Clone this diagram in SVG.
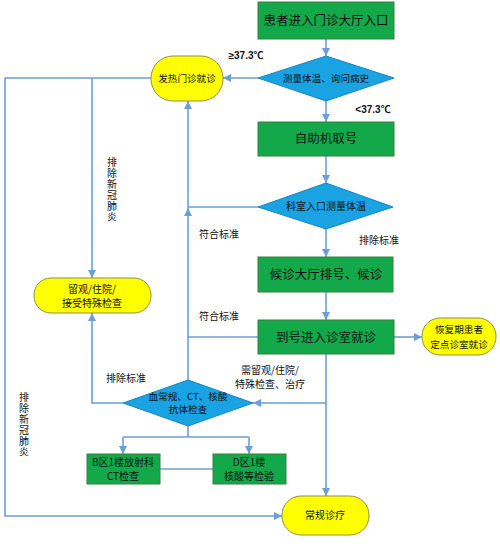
<svg xmlns="http://www.w3.org/2000/svg" width="500" height="548" viewBox="0 0 500 548">
<style>
.g{fill:#13A94B;stroke:#3C7F3E;stroke-width:1}
.d{fill:#1AA3E3;stroke:#1A86C0;stroke-width:1}
.y{fill:#FFFF00;stroke:#8F8F4A;stroke-width:1}
.c path{fill:none;stroke:#6C9FD6;stroke-width:1.6}
text{font-family:"Noto Sans CJK SC","Liberation Sans",sans-serif;fill:#111;text-anchor:middle}
.bt{font-size:12.5px}
.st{font-size:9.6px}
.lb{font-size:10px}
.b{font-weight:bold;font-family:"Liberation Sans","Noto Sans CJK SC",sans-serif}
.v{writing-mode:vertical-rl;letter-spacing:1px}
</style>
<defs>
<marker id="a" markerUnits="userSpaceOnUse" markerWidth="9" markerHeight="9" refX="8" refY="4" orient="auto">
<path d="M0,0 L8,4 L0,8 z" fill="#6C9FD6"/>
</marker>
</defs>
<rect width="500" height="548" fill="#fff"/>
<g class="c">
<path d="M326,39 V56" marker-end="url(#a)"/>
<path d="M258,78 H223" marker-end="url(#a)"/>
<path d="M326,101 V122" marker-end="url(#a)"/>
<path d="M326,156 V183" marker-end="url(#a)"/>
<path d="M258,207 H188"/>
<path d="M188,380 V208" marker-end="url(#a)"/>
<path d="M188,208 V101" marker-end="url(#a)"/>
<path d="M326,229 V257" marker-end="url(#a)"/>
<path d="M326,292 V320" marker-end="url(#a)"/>
<path d="M258,337 H188"/>
<path d="M394,337 H422" marker-end="url(#a)"/>
<path d="M326,354 V496" marker-end="url(#a)"/>
<path d="M326,403 H253" marker-end="url(#a)"/>
<path d="M151,78 H5 V516 H282" marker-end="url(#a)"/>
<path d="M92,78 V278" marker-end="url(#a)"/>
<path d="M123,403 H92 V313" marker-end="url(#a)"/>
<path d="M188,426 V437"/>
<path d="M123,437 H249"/>
<path d="M123,437 V454" marker-end="url(#a)"/>
<path d="M249,437 V454" marker-end="url(#a)"/>
<path d="M160,469 H213"/>
</g>
<g id="entrance"><rect class="g" x="258" y="2" width="136" height="37"/><text class="bt" x="326" y="25">患者进入门诊大厅入口</text></g>
<g id="measure1"><polygon class="d" points="326,56 394,78 326,101 258,78"/><text class="st" x="326" y="82">测量体温、询问病史</text></g>
<g id="fever"><rect class="y" x="151" y="56" width="72" height="45" rx="22" ry="22"/><text class="st" x="187" y="82">发热门诊就诊</text></g>
<g id="selfservice"><rect class="g" x="258" y="122" width="136" height="34"/><text class="bt" x="326" y="143">自助机取号</text></g>
<g id="measure2"><polygon class="d" points="326,183 393,207 326,229 258,207"/><text class="lb" x="326" y="210">科室入口测量体温</text></g>
<g id="waiting"><rect class="g" x="258" y="257" width="135" height="35"/><text class="bt" x="326" y="279">候诊大厅排号、候诊</text></g>
<g id="clinic"><rect class="g" x="258" y="320" width="136" height="34"/><text class="bt" x="326" y="342">到号进入诊室就诊</text></g>
<g id="recovery"><rect class="y" x="422" y="318" width="74" height="37" rx="18" ry="18"/><text class="st" x="459" y="333">恢复期患者</text><text class="st" x="459" y="348">定点诊室就诊</text></g>
<g id="observe"><rect class="y" x="34" y="278" width="117" height="35" rx="17" ry="17"/><text class="lb" x="92" y="293">留观/住院/</text><text class="lb" x="92" y="307">接受特殊检查</text></g>
<g id="tests"><polygon class="d" points="188,380 253,403 188,426 123,403"/><text class="st" x="188" y="400">血常规、CT、核酸</text><text class="st" x="188" y="413">抗体检查</text></g>
<g id="ct"><rect class="g" x="87" y="454" width="73" height="30"/><text class="lb" x="123" y="466">B区1楼放射科</text><text class="lb" x="123" y="480">CT检查</text></g>
<g id="lab"><rect class="g" x="213" y="454" width="73" height="30"/><text class="lb" x="249" y="466">D区1楼</text><text class="lb" x="249" y="480">核酸等检验</text></g>
<g id="routine"><rect class="y" x="282" y="496" width="87" height="39" rx="19" ry="19"/><text class="lb" x="325" y="519">常规诊疗</text></g>
<g id="labels">
<text class="lb b" x="246" y="59">≥37.3℃</text>
<text class="lb b" x="373" y="113">&lt;37.3℃</text>
<text class="lb" x="219" y="238">符合标准</text>
<text class="lb" x="219" y="320">符合标准</text>
<text class="lb" x="379" y="244">排除标准</text>
<text class="lb" x="126" y="382">排除标准</text>
<text class="lb" x="270" y="374">需留观/住院/</text>
<text class="lb" x="270" y="388">特殊检查、治疗</text>
<text class="lb v" x="112" y="190">排除新冠肺炎</text>
<text class="lb v" x="24" y="425">排除新冠肺炎</text>
</g>
</svg>
